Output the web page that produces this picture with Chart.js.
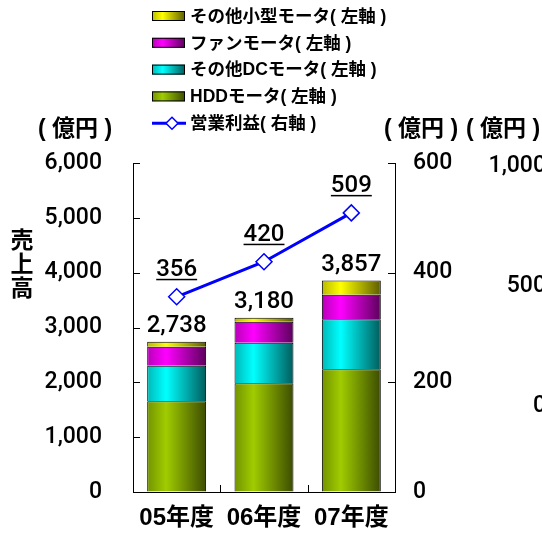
<!DOCTYPE html>
<html>
<head>
<meta charset="utf-8">
<script src="https://cdn.jsdelivr.net/npm/chart.js@4"></script>
<style>
html, body { margin: 0; padding: 0; background: #fff; overflow: hidden; }
#wrap { width: 542px; height: 538px; position: relative; }
</style>
</head>
<body>
<div id="wrap"><canvas id="motorChart"></canvas></div>
<script>
// data (億円)
const years = ['05年度', '06年度', '07年度'];
const hddMotor = [1654, 1982, 2238];
const otherDcMotor = [649, 741, 912];
const fanMotor = [347, 383, 448];
const otherSmallMotor = [88, 74, 259];
const operatingProfit = [356, 420, 509];
const thirdAxisTicks = [0, 500, 1000]; // cut-off axis at the right edge

const JP = '"Liberation Sans", "Noto Sans CJK JP", sans-serif';
const NUM = 'Roboto, "Liberation Sans", sans-serif';

// light / dark tone of each cylinder
const tones = {
    hdd: [[160, 204, 0], [60, 76, 0]],
    dc: [[0, 255, 255], [0, 92, 92]],
    fan: [[255, 0, 255], [92, 0, 92]],
    small: [[255, 255, 0], [92, 92, 0]]
};

function rgb(c, k) {
    return 'rgb(' + c.map(v => Math.round(v * k)).join(',') + ')';
}

function cylGradient(ctx2d, x0, x1, tone) {
    const g = ctx2d.createLinearGradient(x0, 0, x1, 0);
    g.addColorStop(0, rgb(tone[0], 0.72));
    g.addColorStop(0.32, rgb(tone[0], 1));
    g.addColorStop(1, rgb(tone[1], 1));
    return g;
}

function barFill(tone) {
    return ctx => {
        const chart = ctx.chart;
        const xs = chart.scales.x;
        if (!xs || !chart.chartArea) return rgb(tone[0], 1);
        const cx = xs.getPixelForValue(ctx.dataIndex);
        const w = xs.width / years.length * 0.675;
        return cylGradient(chart.ctx, cx - w / 2, cx + w / 2, tone);
    };
}

const overlay = {
    id: 'overlay',
    afterDraw(chart) {
        const c = chart.ctx;
        const area = chart.chartArea;
        const {x, y, y1, y2} = chart.scales;
        c.save();
        c.strokeStyle = '#000';
        c.lineWidth = 1;

        // inward tick marks
        y.ticks.forEach(t => {
            const py = Math.round(y.getPixelForValue(t.value)) + 0.5;
            c.beginPath(); c.moveTo(area.left, py); c.lineTo(area.left + 7, py); c.stroke();
        });
        y1.ticks.forEach(t => {
            const py = Math.round(y1.getPixelForValue(t.value)) + 0.5;
            c.beginPath(); c.moveTo(area.right - 7, py); c.lineTo(area.right, py); c.stroke();
        });
        for (let i = 0; i < years.length - 1; i++) {
            const px = Math.round(x.getPixelForValue(i + 0.5)) + 0.5;
            c.beginPath(); c.moveTo(px, area.bottom); c.lineTo(px, area.bottom - 7); c.stroke();
        }

        c.fillStyle = '#000';
        c.textAlign = 'center';
        c.textBaseline = 'middle';

        // totals above the stacks
        const topMeta = chart.getDatasetMeta(chart.data.datasets.length - 1);
        c.font = '500 24px ' + NUM;
        topMeta.data.forEach((bar, i) => {
            const total = hddMotor[i] + otherDcMotor[i] + fanMotor[i] + otherSmallMotor[i];
            c.fillText(total.toLocaleString('en-US'), bar.x, bar.y - 16);
        });

        // profit labels, underlined
        const lineMeta = chart.getDatasetMeta(0);
        lineMeta.data.forEach((pt, i) => {
            const txt = String(operatingProfit[i]);
            const w = c.measureText(txt).width;
            c.fillText(txt, pt.x, pt.y - 27);
            c.fillRect(pt.x - w / 2, pt.y - 18, w, 1.5);
        });

        // unit headers and the vertical axis title
        c.font = 'bold 23px ' + JP;
        c.fillText('( 億円 )', 75, 130);
        c.fillText('( 億円 )', 421, 130);
        c.fillText('( 億円 )', 503, 130);
        ['売', '上', '高'].forEach((ch, i) => c.fillText(ch, 22, 242 + i * 24));

        // third axis that is cut by the right edge
        c.font = '500 23px ' + NUM;
        c.textAlign = 'right';
        thirdAxisTicks.forEach(v => {
            c.fillText(v.toLocaleString('en-US'), 546, y2.getPixelForValue(v) + 3);
        });

        // legend: stacked bars top first, then the line
        const ds = chart.data.datasets;
        const items = [ds[4], ds[3], ds[2], ds[1], ds[0]];
        c.font = 'bold 17.5px ' + JP;
        c.textAlign = 'left';
        items.forEach((d, i) => {
            const cy = 16 + i * 26.8;
            if (d.type === 'line') {
                c.strokeStyle = d.borderColor;
                c.lineWidth = 3;
                c.beginPath(); c.moveTo(152, cy); c.lineTo(186, cy); c.stroke();
                c.fillStyle = '#fff';
                c.lineWidth = 1.5;
                c.beginPath();
                c.moveTo(172, cy - 6); c.lineTo(178, cy); c.lineTo(172, cy + 6); c.lineTo(166, cy);
                c.closePath(); c.fill(); c.stroke();
            } else {
                c.fillStyle = cylGradient(c, 152, 185, d.tone);
                c.fillRect(152, cy - 5, 33, 10);
                c.strokeStyle = '#000';
                c.lineWidth = 1;
                c.strokeRect(152.5, cy - 4.5, 32, 9);
            }
            c.fillStyle = '#000';
            c.fillText(d.label, 190, cy + 1);
        });
        c.restore();
    }
};

function barSet(label, data, tone) {
    return {
        type: 'bar',
        label: label,
        data: data,
        tone: tone,
        yAxisID: 'y',
        order: 1,
        backgroundColor: barFill(tone),
        borderColor: '#000',
        borderWidth: 1,
        barPercentage: 0.675,
        categoryPercentage: 1
    };
}

new Chart(document.getElementById('motorChart'), {
    data: {
        labels: years,
        datasets: [
            {
                type: 'line',
                label: '営業利益( 右軸 )',
                data: operatingProfit,
                yAxisID: 'y1',
                order: 0,
                borderColor: '#0000ff',
                borderWidth: 3,
                pointStyle: 'rectRot',
                pointRadius: 8,
                pointBackgroundColor: '#fff',
                pointBorderColor: '#0000ff',
                pointBorderWidth: 1.5,
                tension: 0
            },
            barSet('HDDモータ( 左軸 )', hddMotor, tones.hdd),
            barSet('その他DCモータ( 左軸 )', otherDcMotor, tones.dc),
            barSet('ファンモータ( 左軸 )', fanMotor, tones.fan),
            barSet('その他小型モータ( 左軸 )', otherSmallMotor, tones.small)
        ]
    },
    options: {
        responsive: true,
        maintainAspectRatio: false,
        animation: false,
        layout: { padding: { top: 163, left: 0, right: 0, bottom: 0 } },
        plugins: {
            legend: { display: false },
            tooltip: { enabled: false }
        },
        scales: {
            x: {
                stacked: true,
                afterFit: s => { s.height = 46; },
                grid: { display: true, drawOnChartArea: false, drawTicks: false },
                border: { display: true, color: '#000', width: 1 },
                ticks: { color: '#000', padding: 12, font: { family: JP, size: 24, weight: 'bold' } }
            },
            y: {
                stacked: true,
                position: 'left',
                min: 0,
                max: 6000,
                afterFit: s => { s.width = 133; },
                grid: { display: true, drawOnChartArea: false, drawTicks: false },
                border: { display: true, color: '#000', width: 1 },
                ticks: {
                    stepSize: 1000,
                    padding: 31,
                    color: '#000',
                    font: { family: NUM, size: 23, weight: 500 },
                    callback: v => v.toLocaleString('en-US')
                }
            },
            y1: {
                position: 'right',
                min: 0,
                max: 600,
                afterFit: s => { s.width = 147; },
                grid: { display: true, drawOnChartArea: false, drawTicks: false },
                border: { display: true, color: '#000', width: 1 },
                ticks: {
                    stepSize: 200,
                    padding: 18,
                    color: '#000',
                    font: { family: NUM, size: 23, weight: 500 }
                }
            },
            y2: {
                display: false,
                position: 'right',
                min: -372,
                max: 1000
            }
        }
    },
    plugins: [overlay]
});
</script>
</body>
</html>
